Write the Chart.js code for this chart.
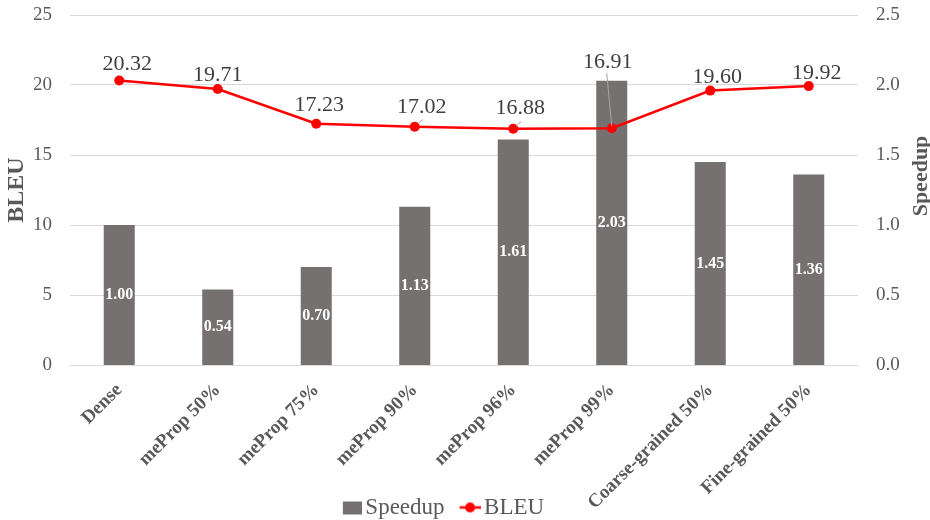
<!DOCTYPE html>
<html><head><meta charset="utf-8">
<script src="https://cdn.jsdelivr.net/npm/chart.js@4/dist/chart.umd.min.js"></script>
<style>html,body{margin:0;padding:0;background:#fff}#wrap{width:930px;height:520px}</style>
</head><body><div id="wrap"><canvas id="c" width="930" height="520"></canvas></div>
<script>
const categories = ['Dense','meProp 50%','meProp 75%','meProp 90%','meProp 96%','meProp 99%','Coarse-grained 50%','Fine-grained 50%'];
const speedup = [1.00, 0.54, 0.70, 1.13, 1.61, 2.03, 1.45, 1.36];
const bleu = [20.32, 19.71, 17.23, 17.02, 16.88, 16.91, 19.60, 19.92];
const bleuTicks = [0, 5, 10, 15, 20, 25];
const speedupTicks = [0.0, 0.5, 1.0, 1.5, 2.0, 2.5];

const SERIF = "'Liberation Serif','Times New Roman',serif";
const BAR_COLOR = '#767171';
const LINE_COLOR = '#ff0000';
const TEXT_COLOR = '#595959';

// label placement tweaks for the BLEU values (dx, dy relative to point, leader line flag)
const bleuLabelLayout = [[8,-16,0],[0,-14,0],[3,-19,0],[7,-20,1],[7,-20,1],[-4,-66,1],[7,-13,0],[8,-13,0]];

function makeIcon(kind){
  const c = document.createElement('canvas');
  c.width = 40; c.height = 16;
  const g = c.getContext('2d');
  if (kind === 'bar') {
    g.fillStyle = BAR_COLOR;
    g.fillRect(21, 2, 19, 13);
  } else {
    g.strokeStyle = LINE_COLOR; g.lineWidth = 2.5;
    g.beginPath(); g.moveTo(19, 8); g.lineTo(40, 8); g.stroke();
    g.fillStyle = LINE_COLOR;
    g.beginPath(); g.arc(29.5, 8, 5, 0, Math.PI*2); g.fill();
  }
  return c;
}
const barIcon = makeIcon('bar');
const lineIcon = makeIcon('line');

const labelPlugin = {
  id: 'valueLabels',
  afterLayout(chart){
    const lg = chart.legend;
    if (lg) { lg.left -= 28; lg.right -= 28; lg.top += 9; lg.bottom += 9; }
    const xs = chart.scales.x;
    if (xs) { xs.bottom = chart.height; }
  },
  afterDatasetsDraw(chart){
    const ctx = chart.ctx;
    ctx.save();
    const barMeta = chart.getDatasetMeta(0);
    ctx.font = "bold 16px " + SERIF;
    ctx.fillStyle = '#ffffff';
    ctx.textAlign = 'center';
    ctx.textBaseline = 'middle';
    barMeta.data.forEach((el, i) => {
      const y = (el.y + el.base) / 2;
      ctx.fillText(speedup[i].toFixed(2), el.x, y);
    });
    const lineMeta = chart.getDatasetMeta(1);
    ctx.font = "22px " + SERIF;
    lineMeta.data.forEach((el, i) => {
      const [dx, dy, leader] = bleuLabelLayout[i];
      const lx = el.x + dx, ly = el.y + dy;
      if (leader) {
        ctx.strokeStyle = '#a6a6a6';
        ctx.lineWidth = 1;
        ctx.beginPath();
        if (i === 5) { ctx.moveTo(lx - 1, ly + 11); ctx.lineTo(el.x, el.y - 2); }
        else { ctx.moveTo(el.x + 3, el.y - 3); ctx.lineTo(el.x + 8, el.y - 7); }
        ctx.stroke();
      }
      ctx.fillStyle = '#404040';
      ctx.fillText(bleu[i].toFixed(2), lx, ly);
    });
    ctx.restore();
  },
  afterDraw(chart){
    const ctx = chart.ctx, a = chart.chartArea;
    ctx.save();
    ctx.font = "bold 24px " + SERIF;
    ctx.fillStyle = TEXT_COLOR;
    ctx.textAlign = 'center';
    ctx.textBaseline = 'middle';
    ctx.translate(17, (a.top + a.bottom) / 2);
    ctx.rotate(-Math.PI / 2);
    ctx.fillText('BLEU', 0, 0);
    ctx.restore();
    ctx.save();
    ctx.font = "bold 22px " + SERIF;
    ctx.fillStyle = TEXT_COLOR;
    ctx.textAlign = 'center';
    ctx.textBaseline = 'middle';
    ctx.translate(921, 176);
    ctx.rotate(-Math.PI / 2);
    ctx.fillText('Speedup', 0, 0);
    ctx.restore();
  }
};

new Chart(document.getElementById('c'), {
  data: {
    labels: categories,
    datasets: [
      { type: 'bar', label: 'Speedup', data: speedup, yAxisID: 'y2', backgroundColor: BAR_COLOR,
        barPercentage: 0.315, categoryPercentage: 1.0, order: 1 },
      { type: 'line', label: 'BLEU', data: bleu, yAxisID: 'y', borderColor: LINE_COLOR, backgroundColor: LINE_COLOR,
        borderWidth: 2.5, pointRadius: 5, pointBorderWidth: 0, pointBackgroundColor: LINE_COLOR, tension: 0, order: 0 }
    ]
  },
  options: {
    responsive: false,
    animation: false,
    devicePixelRatio: 1,
    layout: { padding: { top: 15, left: 0, right: 0, bottom: 0 } },
    scales: {
      x: {
        grid: { display: false }, border: { display: false },
        ticks: { color: TEXT_COLOR, font: { family: SERIF, size: 19, weight: 'bold' }, maxRotation: 45, minRotation: 45, padding: 6, autoSkip: false },
        afterFit(s){ s.height = 118; }
      },
      y: {
        position: 'left', min: bleuTicks[0], max: bleuTicks[bleuTicks.length-1],
        ticks: { stepSize: bleuTicks[1]-bleuTicks[0], color: TEXT_COLOR, font: { family: SERIF, size: 19 }, padding: 18 },
        grid: { color: '#d9d9d9', lineWidth: 1, drawTicks: false }, border: { display: false },
        afterFit(s){ s.width = 70; s.paddingTop = 0; s.paddingBottom = 0; }
      },
      y2: {
        position: 'right', min: speedupTicks[0], max: speedupTicks[speedupTicks.length-1],
        ticks: { stepSize: speedupTicks[1]-speedupTicks[0], color: TEXT_COLOR, font: { family: SERIF, size: 19 }, padding: 18,
          callback: v => Number(v).toFixed(1) },
        grid: { display: false, drawTicks: false }, border: { display: false },
        afterFit(s){ s.width = 72; s.paddingTop = 0; s.paddingBottom = 0; }
      }
    },
    plugins: {
      tooltip: { enabled: false },
      legend: {
        position: 'bottom',
        labels: {
          color: TEXT_COLOR, font: { family: SERIF, size: 23 }, padding: 4,
          usePointStyle: true, pointStyleWidth: 24,
          generateLabels: () => [
            { text: 'Speedup', pointStyle: barIcon, fillStyle: BAR_COLOR, strokeStyle: BAR_COLOR, lineWidth: 0, hidden: false, datasetIndex: 0, fontColor: TEXT_COLOR },
            { text: 'BLEU', pointStyle: lineIcon, fillStyle: LINE_COLOR, strokeStyle: LINE_COLOR, lineWidth: 0, hidden: false, datasetIndex: 1, fontColor: TEXT_COLOR }
          ]
        }
      }
    }
  },
  plugins: [labelPlugin]
});
</script></body></html>
